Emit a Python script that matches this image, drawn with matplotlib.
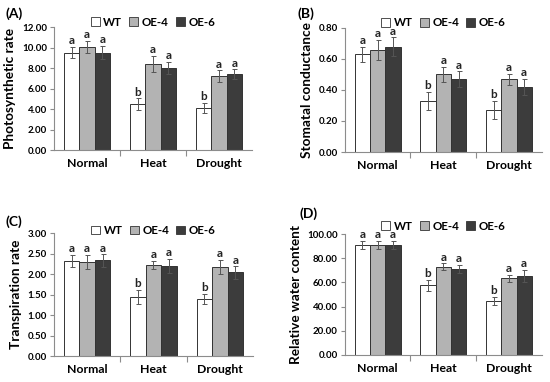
import matplotlib
matplotlib.use("Agg")
import matplotlib.pyplot as plt
import numpy as np
from matplotlib.patches import Patch

categories = ["Normal", "Heat", "Drought"]
series = ["WT", "OE-4", "OE-6"]
colors = ["#ffffff", "#b3b3b3", "#3c3c3c"]

# Panel A: Photosynthetic rate
a_vals = {"WT": [9.5, 4.5, 4.1], "OE-4": [10.05, 8.4, 7.2], "OE-6": [9.5, 8.0, 7.4]}
a_err = {"WT": [0.55, 0.55, 0.5], "OE-4": [0.6, 0.8, 0.6], "OE-6": [0.65, 0.6, 0.5]}
a_sig = {"WT": ["a", "b", "b"], "OE-4": ["a", "a", "a"], "OE-6": ["a", "a", "a"]}

# Panel B: Stomatal conductance
b_vals = {"WT": [0.63, 0.33, 0.27], "OE-4": [0.66, 0.50, 0.47], "OE-6": [0.68, 0.47, 0.42]}
b_err = {"WT": [0.05, 0.06, 0.06], "OE-4": [0.065, 0.05, 0.035], "OE-6": [0.06, 0.05, 0.05]}
b_sig = a_sig

# Panel C: Transpiration rate
c_vals = {"WT": [2.32, 1.44, 1.39], "OE-4": [2.30, 2.22, 2.17], "OE-6": [2.33, 2.20, 2.04]}
c_err = {"WT": [0.15, 0.17, 0.13], "OE-4": [0.17, 0.10, 0.17], "OE-6": [0.15, 0.17, 0.15]}
c_sig = a_sig

# Panel D: Relative water content
d_vals = {"WT": [91.0, 57.5, 44.5], "OE-4": [91.0, 73.0, 63.5], "OE-6": [91.0, 71.0, 65.5]}
d_err = {"WT": [3.5, 4.5, 3.5], "OE-4": [3.5, 3.0, 3.0], "OE-6": [3.5, 3.5, 5.0]}
d_sig = a_sig

panels = [
    ("(A)", "Photosynthetic rate", a_vals, a_err, a_sig, np.arange(0, 12.01, 2.0), 12.0, [0.098, 0.607, 0.360, 0.322], (0.01, 0.965), 1.04),
    ("(B)", "Stomatal conductance", b_vals, b_err, b_sig, np.arange(0, 0.801, 0.2), 0.8, [0.627, 0.602, 0.358, 0.325], (0.54, 0.965), 1.04),
    ("(C)", "Transpiration rate", c_vals, c_err, c_sig, np.arange(0, 3.01, 0.5), 3.0, [0.098, 0.068, 0.362, 0.322], (0.01, 0.42), 1.02),
    ("(D)", "Relative water content", d_vals, d_err, d_sig, np.arange(0, 100.1, 20), 100.0, [0.627, 0.071, 0.358, 0.316], (0.545, 0.44), 1.065),
]

plt.rcParams['font.family'] = ['Lato', 'DejaVu Sans']
fig = plt.figure(figsize=(5.5, 3.82), dpi=100)

spine_c = "#8c8c8c"
bw = 0.233
x = np.arange(len(categories))

for label, ylabel, vals, errs, sigs, ticks, ymax, pos, lpos, legy in panels:
    ax = fig.add_axes(pos)
    for i, s in enumerate(series):
        xs = x + (i - 1) * bw
        ax.bar(xs, vals[s], width=bw, color=colors[i], edgecolor="#333333", linewidth=0.7, zorder=2)
        ax.errorbar(xs, vals[s], yerr=errs[s], fmt="none", ecolor="#555555", elinewidth=0.7, capsize=1.8, capthick=0.7, zorder=3)
        for xi, v, e, t in zip(xs, vals[s], errs[s], sigs[s]):
            ax.text(xi, v + e + ymax * 0.005, t, ha="center", va="bottom", fontsize=8.5, fontweight="bold", color="#222222")
    ax.set_xlim(-0.5, 2.5)
    ax.set_ylim(0, ymax)
    ax.set_yticks(ticks)
    ax.set_yticklabels([f"{t:.2f}" for t in ticks], fontsize=7, fontweight="bold")
    ax.set_xticks([0.5, 1.5])
    ax.set_xticklabels([])
    ax.set_xticks(x, minor=True)
    ax.set_xticklabels(categories, minor=True, fontsize=8.8, fontweight="bold")
    ax.tick_params(axis="x", which="minor", length=0, pad=6)
    ax.tick_params(axis="x", which="major", length=4, color=spine_c, direction="out")
    ax.tick_params(axis="y", length=3, color=spine_c, direction="out", pad=2)
    for sp in ["top", "right"]:
        ax.spines[sp].set_visible(False)
    for sp in ["left", "bottom"]:
        ax.spines[sp].set_color(spine_c)
        ax.spines[sp].set_linewidth(0.8)
    ax.set_ylabel(ylabel, fontsize=9.8, fontweight="bold", labelpad=4)
    handles = [Patch(facecolor=colors[i], edgecolor="#333333", linewidth=0.6, label=s) for i, s in enumerate(series)]
    ax.legend(handles=handles, loc="center", bbox_to_anchor=(0.5, legy), ncol=3, frameon=False,
              prop={"size": 8.3, "weight": "bold"}, handlelength=0.8, handleheight=0.8,
              handletextpad=0.3, columnspacing=0.6, borderaxespad=0)
    fig.text(lpos[0], lpos[1], label, fontsize=10, fontweight="bold", ha="left", va="center")

fig.savefig("out.png", dpi=100)
